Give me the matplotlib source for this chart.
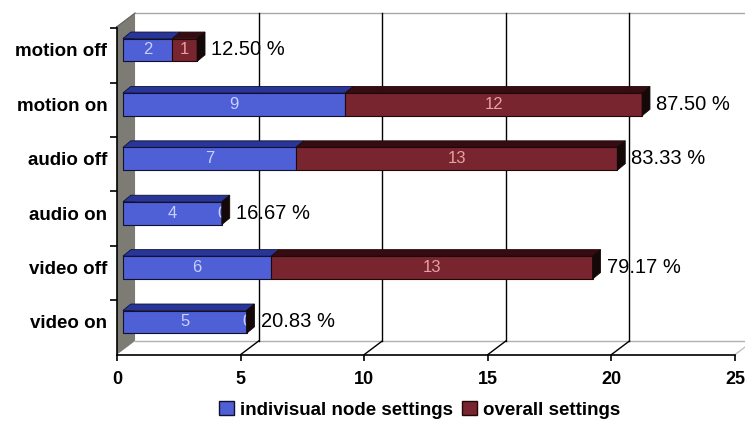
import matplotlib
matplotlib.use("Agg")
import matplotlib.pyplot as plt
from matplotlib.patches import Polygon, Patch

plt.rcParams["font.family"] = ["Liberation Sans", "DejaVu Sans"]

categories = ["video on", "video off", "audio on", "audio off", "motion on", "motion off"]
individual = [5, 6, 4, 7, 9, 2]
overall = [0, 13, 0, 13, 12, 1]
percent_labels = ["20.83 %", "79.17 %", "16.67 %", "83.33 %", "87.50 %", "12.50 %"]
xticks = [0, 5, 10, 15, 20, 25]

BLUE = "#4f60d6"
BLUE_TOP = "#28369a"
RED = "#782530"
RED_TOP = "#360c12"
SIDE = "#140808"

# 3D look: depth offsets in data units
DX, DY = 0.73, 0.25        # full wall depth
BX = 0.24                  # bar front face shift
TX, TY = 0.32, 0.12        # bar top face depth
H = 0.42
Y0, Y1 = -0.6, 5.68

fig = plt.figure(figsize=(7.45, 4.26), dpi=100)
ax = fig.add_axes([117 / 745, (426 - 354.6) / 426, 618 / 745, 341.6 / 426])
ax.set_xlim(0, 25)
ax.set_ylim(Y0, Y1)
for s in ("top", "right", "left"):
    ax.spines[s].set_visible(False)
ax.spines["bottom"].set_linewidth(1.2)
ax.set_xticks(xticks)
ax.set_xticklabels([str(t) for t in xticks], fontsize=13, fontweight="bold")
ax.tick_params(axis="x", length=4, width=1.2, pad=8)
ys = list(range(len(categories)))
ax.set_yticks(ys)
ax.set_yticklabels(categories, fontsize=13.5, fontweight="bold")
ax.tick_params(axis="y", which="major", length=0, pad=7)
ax.set_yticks([i + 0.4 for i in range(len(categories))], minor=True)
ax.tick_params(axis="y", which="minor", length=5, width=1.2, direction="out")

# left wall
ax.add_patch(Polygon([(0, Y0), (DX, Y0 + DY), (DX, Y1), (0, 5.43)], closed=True,
                     facecolor="#7c7c74", edgecolor="none", zorder=1, clip_on=False))
ax.plot([0, 0], [Y0, 5.43], color="black", lw=1.2, zorder=2, clip_on=False)
ax.plot([0, DX], [5.43, Y1], color="#606060", lw=0.8, zorder=2, clip_on=False)
# back wall / floor
ax.plot([DX, 25 + DX], [Y1, Y1], color="#a8a8a8", lw=1, zorder=1, clip_on=False)
ax.plot([DX, 25 + DX], [Y0 + DY, Y0 + DY], color="#b0b0b0", lw=1, zorder=1, clip_on=False)
for k in xticks[1:]:
    ax.plot([k + DX, k + DX], [Y0 + DY, Y1], color="black", lw=1, zorder=1, clip_on=False)
    ax.plot([k, k + DX], [Y0, Y0 + DY], color="black" if k < 25 else "#c0c0c0",
            lw=1, zorder=1, clip_on=False)

for y, a, b, pct in zip(ys, individual, overall, percent_labels):
    # front faces
    ax.barh(y, a, left=BX, height=H, color=BLUE, edgecolor="#101030", lw=0.8, zorder=3)
    if b > 0:
        ax.barh(y, b, left=BX + a, height=H, color=RED, edgecolor="#200808", lw=0.8, zorder=3)
    # top faces
    top = y + H / 2
    ax.add_patch(Polygon([(BX, top), (BX + a, top), (BX + a + TX, top + TY), (BX + TX, top + TY)],
                         closed=True, facecolor=BLUE_TOP, edgecolor="#101030", lw=0.6, zorder=3))
    if b > 0:
        ax.add_patch(Polygon([(BX + a, top), (BX + a + b, top), (BX + a + b + TX, top + TY),
                              (BX + a + TX, top + TY)],
                             closed=True, facecolor=RED_TOP, edgecolor="#200808", lw=0.6, zorder=3))
    # value labels
    ax.text(BX + a / 2, y, str(a), ha="center", va="center", fontsize=12, color="#c8d0ff", zorder=4)
    ax.text(BX + a + b / 2, y, str(b), ha="center", va="center", fontsize=12,
            color="#e8a0a0" if b > 0 else "#c8d0ff", zorder=4)
    # side face
    end = BX + a + b
    ax.add_patch(Polygon([(end, y - H / 2), (end, top), (end + TX, top + TY), (end + TX, y - H / 2 + TY)],
                         closed=True, facecolor=SIDE, edgecolor=SIDE, lw=0.6, zorder=5))
    ax.text(end + TX + 0.25, y, pct, ha="left", va="center", fontsize=14.5, color="black", zorder=6)

handles = [Patch(facecolor=BLUE, edgecolor="#101030"), Patch(facecolor=RED, edgecolor="#200808")]
fig.legend(handles, ["indivisual node settings", "overall settings"], loc="center",
           bbox_to_anchor=(0.563, 0.038), ncol=2, frameon=False, handlelength=0.8,
           handleheight=0.8, handletextpad=0.3, columnspacing=0.5,
           prop={"weight": "bold", "size": 13.5})

fig.savefig("out.png", dpi=100)
